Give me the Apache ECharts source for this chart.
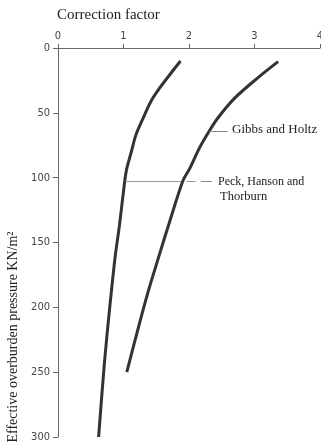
<!DOCTYPE html>
<html><head><meta charset="utf-8">
<script src="https://cdn.jsdelivr.net/npm/echarts@6/dist/echarts.min.js"></script>
<style>html,body{margin:0;padding:0;background:#fff}#c{width:321px;height:443px}</style>
</head><body><div id="c"></div>
<script>
const xTicks = [0, 1, 2, 3, 4];
const yTicks = [0, 50, 100, 150, 200, 250, 300];
const peckPressure = [10, 21, 31, 41, 54, 67, 80, 93, 102, 136, 162, 200, 242, 300];
const peckFactor   = [1.87, 1.70, 1.55, 1.42, 1.30, 1.19, 1.12, 1.05, 1.02, 0.94, 0.87, 0.79, 0.71, 0.62];
const gibbsPressure = [10.5, 23, 39, 54, 64, 77, 93, 102, 133, 164, 189, 215, 250];
const gibbsFactor   = [3.36, 3.05, 2.69, 2.44, 2.31, 2.16, 2.01, 1.91, 1.71, 1.52, 1.37, 1.23, 1.05];
const seriesNames = ['Peck, Hanson and Thorburn', 'Gibbs and Holtz'];
const xTitle = 'Correction factor';
const yTitle = 'Effective overburden pressure KN/m²';

const chart = echarts.init(document.getElementById('c'), null, {renderer: 'canvas'});
const tickFont = {fontFamily: '"DejaVu Sans Condensed","Liberation Sans Narrow",sans-serif', fontSize: 11, color: '#444'};
const serif = '"Liberation Serif","DejaVu Serif",serif';
const axisCol = '#666';
const leader = (a, b, col) => [{coord: a, lineStyle: {color: col, width: 1, type: 'solid'}}, {coord: b}];
chart.setOption({
  animation: false,
  backgroundColor: '#fff',
  grid: {left: 58, right: 1, top: 48, bottom: 6, containLabel: false, outerBoundsMode: 'none'},
  xAxis: {
    type: 'value', position: 'top', min: 0, max: 4, interval: 1,
    axisLine: {show: true, lineStyle: {color: axisCol, width: 1}},
    axisTick: {show: true, length: 4, lineStyle: {color: axisCol}},
    axisLabel: Object.assign({margin: 6, formatter: v => xTicks.includes(v) ? String(v) : ''}, tickFont),
    splitLine: {show: false}
  },
  yAxis: {
    type: 'value', inverse: true, min: 0, max: 300, interval: 50,
    axisLine: {show: true, lineStyle: {color: axisCol, width: 1}},
    axisTick: {show: true, length: 5, lineStyle: {color: axisCol}},
    axisLabel: Object.assign({margin: 8, formatter: v => yTicks.includes(v) ? String(v) : ''}, tickFont),
    splitLine: {show: false}
  },
  series: [
    {
      name: seriesNames[0], type: 'line', smooth: 0.3, showSymbol: false,
      lineStyle: {color: '#333', width: 3},
      data: peckPressure.map((p, i) => [peckFactor[i], p]),
      markLine: {
        silent: true, symbol: 'none', label: {show: false},
        data: [
          leader([1.03, 102.5], [1.88, 102.5], '#999'),
          leader([1.96, 102.5], [2.10, 102.5], '#999'),
          leader([2.18, 102.5], [2.35, 102.5], '#888')
        ]
      }
    },
    {
      name: seriesNames[1], type: 'line', smooth: 0.3, showSymbol: false,
      lineStyle: {color: '#333', width: 3},
      data: gibbsPressure.map((p, i) => [gibbsFactor[i], p]),
      markLine: {
        silent: true, symbol: 'none', label: {show: false},
        data: [leader([2.31, 64], [2.59, 64], '#888')]
      }
    }
  ],
  graphic: [
    {type: 'text', left: 57, top: 8, style: {text: xTitle, font: '15px ' + serif, fill: '#222'}},
    {type: 'text', x: 13, y: 337, rotation: Math.PI / 2,
     style: {text: yTitle, font: '14px ' + serif, fill: '#222', align: 'center', verticalAlign: 'middle'}},
    {type: 'text', x: 232, y: 130, style: {text: 'Gibbs and Holtz', font: '13px ' + serif, fill: '#222', verticalAlign: 'middle'}},
    {type: 'text', x: 218, y: 182, style: {text: 'Peck, Hanson and', font: '12px ' + serif, fill: '#222', verticalAlign: 'middle'}},
    {type: 'text', x: 220, y: 197, style: {text: 'Thorburn', font: '12.5px ' + serif, fill: '#222', verticalAlign: 'middle'}}
  ]
});
</script></body></html>
